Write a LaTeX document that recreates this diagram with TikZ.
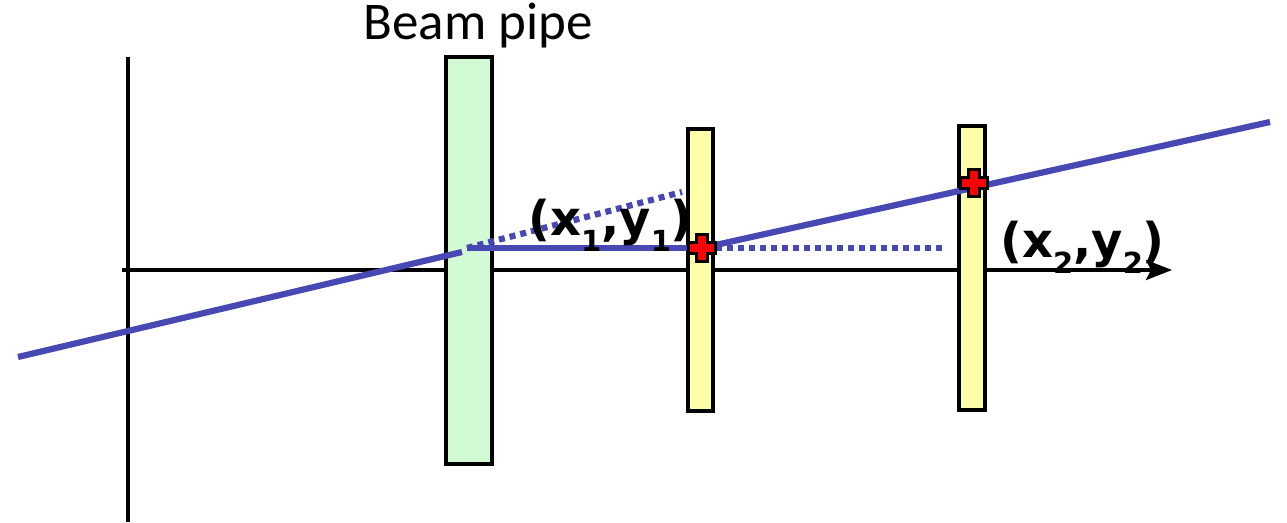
\documentclass[tikz,border=0pt]{standalone}
\usepackage{fontspec}
\usetikzlibrary{arrows.meta}
\setmainfont{Liberation Sans}
\newfontfamily\carl{Carlito}
\newfontfamily\dvs{DejaVu Sans}
\definecolor{trackblue}{RGB}{72,72,180}
\definecolor{pipegreen}{RGB}{210,250,212}
\definecolor{layeryellow}{RGB}{255,255,170}
\newcommand{\lowsub}[1]{\raisebox{-16pt}{\fontsize{29}{29}\selectfont #1}}
\begin{document}
\begin{tikzpicture}[x=1pt,y=-1pt,
  axis/.style={line width=3.4pt,black},
  pipe/.style={draw=black,line width=3.6pt,fill=pipegreen},
  layer/.style={draw=black,line width=3.6pt,fill=layeryellow},
  track/.style={line width=6.2pt,color=trackblue},
  dotline/.style={track,dash pattern=on 6pt off 5pt},
  lbl/.style={font=\dvs\bfseries\fontsize{48}{48}\selectfont,inner sep=0pt,anchor=base west},
  hitmark/.style={fill=red,draw=black,line width=2.6pt,line join=miter}]
\useasboundingbox (0,0) rectangle (1287,522);
% axes
\coordinate (vtop) at (128,57);
\coordinate (vbot) at (128,522);
\coordinate (hl) at (122,270);
\coordinate (hr) at (1172,270);
\draw[axis] (vtop) -- (vbot);
\draw[axis,-{Stealth[length=26pt,width=20pt,inset=5pt]}] (hl) -- (hr);
% boxes
\draw[pipe] (446,57) rectangle (492,464);
\draw[layer] (688,129) rectangle (713,411);
\draw[layer] (959,126) rectangle (985,410);
% track
\coordinate (t0) at (18,357);
\coordinate (v) at (462,252);
\coordinate (v2) at (467,248);
\coordinate (h1) at (702,248);
\coordinate (h2) at (974,183);
\coordinate (tend) at (1270,122);
\coordinate (d1) at (682,192);
\coordinate (d2) at (946,248);
\coordinate (h1r) at (716,248);
\draw[track] (t0) -- (v);
\draw[track] (v2) -- (h1);
\draw[track] (h1) -- (tend);
\draw[dotline] (v2) -- (d1);
\draw[dotline] (h1r) -- (d2);
% hits
\foreach \h in {h1,h2}{
  \path[hitmark] (\h) ++(-5.5,-13.5) -- ++(11,0) -- ++(0,8) -- ++(8,0) -- ++(0,11) -- ++(-8,0) -- ++(0,8) -- ++(-11,0) -- ++(0,-8) -- ++(-8,0) -- ++(0,-11) -- ++(8,0) -- cycle;
}
% labels
\node[lbl] (lab1) at (528,235) {(x\lowsub{1},y\lowsub{1})};
\node[lbl] (lab2) at (1000,257) {(x\lowsub{2},y\lowsub{2})};
\node[font=\carl\fontsize{53}{53}\selectfont,inner sep=0pt,anchor=base] (beam) at (478,39) {Beam pipe};
\end{tikzpicture}
\end{document}
